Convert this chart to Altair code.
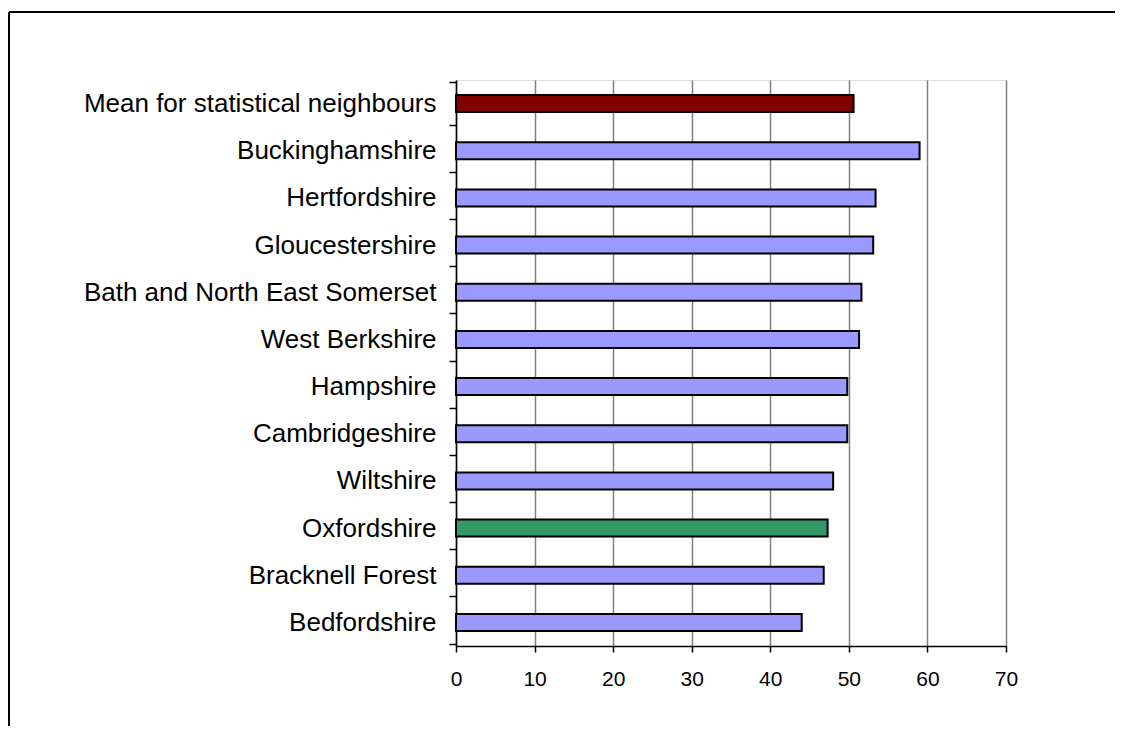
import altair as alt
import pandas as pd

categories = [
    "Mean for statistical neighbours",
    "Buckinghamshire",
    "Hertfordshire",
    "Gloucestershire",
    "Bath and North East Somerset",
    "West Berkshire",
    "Hampshire",
    "Cambridgeshire",
    "Wiltshire",
    "Oxfordshire",
    "Bracknell Forest",
    "Bedfordshire",
]
values = [50.6, 59.0, 53.4, 53.1, 51.6, 51.3, 49.8, 49.8, 48.0, 47.3, 46.8, 44.0]
groups = ["mean", "other", "other", "other", "other", "other", "other", "other",
          "other", "oxon", "other", "other"]
x_ticks = [0, 10, 20, 30, 40, 50, 60, 70]

df = pd.DataFrame({"area": categories, "value": values, "group": groups})

FONT = "Liberation Sans"

bars = alt.Chart(df).mark_bar(
    stroke="black", strokeWidth=2, height=alt.RelativeBandSize(0.4)
).encode(
    y=alt.Y("area:N", sort=categories, title=None,
            axis=alt.Axis(tickBand="extent", grid=False, domainColor="black",
                          domainWidth=1.5, tickColor="black", tickWidth=1.5,
                          tickSize=7, labelFontSize=26, labelColor="black",
                          labelFont=FONT, labelPadding=13, labelLimit=600)),
    x=alt.X("value:Q", title=None,
            scale=alt.Scale(domain=[0, 70], nice=False),
            axis=alt.Axis(values=x_ticks, grid=True, gridColor="#808080",
                          gridWidth=1.5, domainColor="black", domainWidth=1.5,
                          tickColor="black", tickWidth=1.5, tickSize=6,
                          labelFontSize=21, labelColor="black", labelFont=FONT,
                          labelPadding=16, labelFlush=False, format="d")),
    color=alt.Color("group:N", legend=None,
                    scale=alt.Scale(domain=["mean", "other", "oxon"],
                                    range=["#800000", "#9999FF", "#339966"])),
)

frame = pd.DataFrame({"k": [0]})
left_line = alt.Chart(frame).mark_rule(color="black", strokeWidth=2).encode(
    x=alt.value(-447), y=alt.value(-68), y2=alt.value(900))
top_line = alt.Chart(frame).mark_rule(color="black", strokeWidth=2).encode(
    y=alt.value(-68), x=alt.value(-447), x2=alt.value(1000))

chart = alt.layer(bars, left_line, top_line).properties(
    width=550, height=566,
    autosize=alt.AutoSizeParams(type="none"),
    padding={"left": 448, "top": 72, "right": 109, "bottom": 80},
).configure_view(stroke="#808080", strokeWidth=1.5).configure(background="white")

chart.save("out.html", embed_options={"renderer": "svg", "actions": False})
